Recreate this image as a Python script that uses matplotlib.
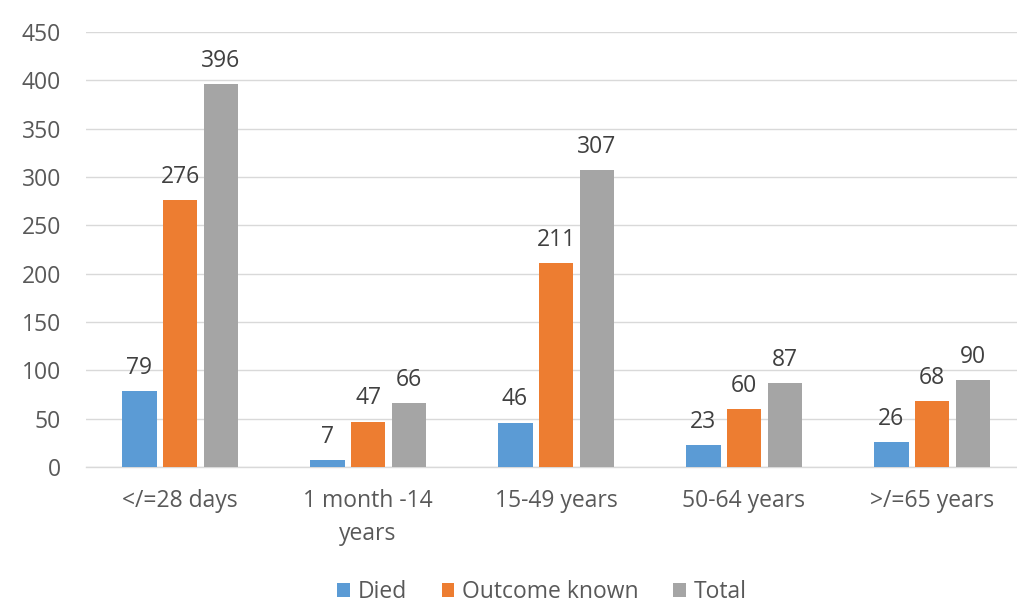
import matplotlib.pyplot as plt
import numpy as np

# Datos por grupo de edad
categories = ["</=28 days", "1 month -14\nyears", "15-49 years", "50-64 years", ">/=65 years"]
died = [79, 7, 46, 23, 26]
outcome_known = [276, 47, 211, 60, 68]
total = [396, 66, 307, 87, 90]

series = [
    ("Died", died, "#5B9BD5"),
    ("Outcome known", outcome_known, "#ED7D31"),
    ("Total", total, "#A5A5A5"),
]

plt.rcParams["font.family"] = ["Open Sans", "DejaVu Sans"]
fs = 16.5

fig = plt.figure(figsize=(10.17, 6.03), dpi=100)
ax = fig.add_axes([86 / 1017, 136 / 603, 931 / 1017, 435 / 603])

x = np.arange(len(categories))
step = 0.218
width = 0.186

for i, (name, vals, color) in enumerate(series):
    pos = x + (i - 1) * step
    bars = ax.bar(pos, vals, width=width, color=color, label=name, zorder=3)
    for b, v in zip(bars, vals):
        ax.annotate(str(v), (b.get_x() + b.get_width() / 2, v),
                    xytext=(0, 8), textcoords="offset points",
                    ha="center", va="bottom", fontsize=fs, color="#404040")

ax.set_xlim(-0.5, -0.5 + 931 / 188)
ax.set_ylim(0, 450)
ax.set_yticks(np.arange(0, 451, 50))
ax.set_xticks(x)
ax.set_xticklabels(categories, linespacing=1.5)

ax.grid(axis="y", color="#D9D9D9", linewidth=1, zorder=0)
for s in ["top", "right", "left"]:
    ax.spines[s].set_visible(False)
ax.spines["bottom"].set_color("#D9D9D9")
ax.spines["bottom"].set_linewidth(1)

ax.tick_params(axis="both", length=0, labelsize=fs, colors="#595959")
ax.tick_params(axis="y", pad=18)
ax.tick_params(axis="x", pad=16)

fig.legend(loc="center", bbox_to_anchor=(542 / 1017, 1 - 592 / 603), ncol=3,
           frameon=False, fontsize=fs, handlelength=0.55, handleheight=0.55,
           columnspacing=1.5, handletextpad=0.35, labelcolor="#595959")

fig.savefig("out.png", dpi=100)
